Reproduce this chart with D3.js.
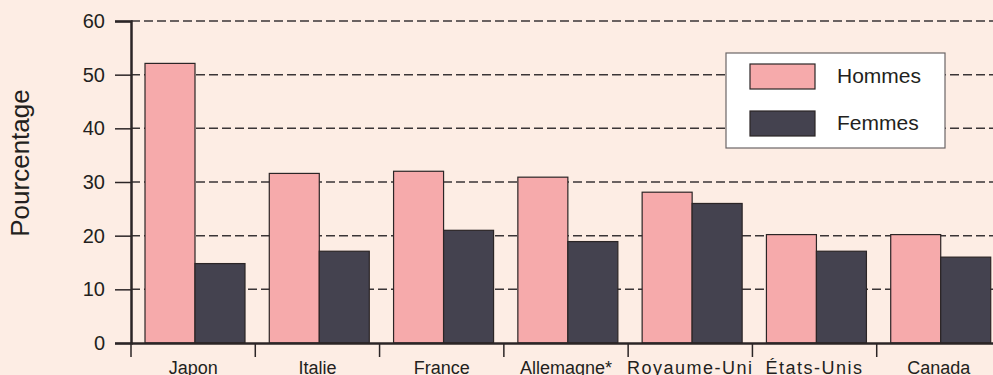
<!DOCTYPE html>
<html>
<head>
<meta charset="utf-8">
<script src="https://cdn.jsdelivr.net/npm/d3@7"></script>
<style>
  body { margin: 0; background: #fdede4; }
  svg { display: block; font-family: "Liberation Sans", Arial, sans-serif; }
</style>
</head>
<body>
<div id="chart"></div>
<script>
const categories = ['Japon', 'Italie', 'France', 'Allemagne*', 'Royaume-Uni', 'États-Unis', 'Canada'];
const hommes = [52.1, 31.6, 32.0, 30.9, 28.1, 20.2, 20.2];
const femmes = [14.8, 17.1, 21.0, 18.9, 26.0, 17.1, 16.0];
const series = ['Hommes', 'Femmes'];
const yTicks = [0, 10, 20, 30, 40, 50, 60];

const width = 993, height = 375;
const margin = { left: 131, top: 21, bottom: 32 };
const plotRight = 1001;

const colors = { Hommes: '#f6aaab', Femmes: '#44424f' };
const fontFam = '"Liberation Sans", Arial, sans-serif';

const svg = d3.select('#chart')
  .append('svg')
  .attr('width', width)
  .attr('height', height);

svg.append('rect')
  .attr('width', width)
  .attr('height', height)
  .attr('fill', '#fdede4');

const x0 = d3.scaleBand()
  .domain(categories)
  .range([margin.left, plotRight]);

const x1 = d3.scaleBand()
  .domain(series)
  .range([14, 114]);

const y = d3.scaleLinear()
  .domain([0, 60])
  .range([height - margin.bottom, margin.top]);

// dashed grid
svg.append('g')
  .selectAll('line')
  .data(yTicks.filter(d => d > 0))
  .enter().append('line')
  .attr('x1', margin.left)
  .attr('x2', width)
  .attr('y1', d => y(d))
  .attr('y2', d => y(d))
  .attr('stroke', '#3a3536')
  .attr('stroke-width', 1.5)
  .attr('stroke-dasharray', '9,4');

// bars
const rows = categories.map((c, i) => ({ cat: c, Hommes: hommes[i], Femmes: femmes[i] }));

const groups = svg.append('g')
  .selectAll('g')
  .data(rows)
  .enter().append('g')
  .attr('transform', d => 'translate(' + x0(d.cat) + ',0)');

groups.selectAll('rect')
  .data(d => series.map(s => ({ key: s, value: d[s] })))
  .enter().append('rect')
  .attr('x', d => x1(d.key))
  .attr('width', x1.bandwidth())
  .attr('y', d => y(d.value))
  .attr('height', d => y(0) - y(d.value))
  .attr('fill', d => colors[d.key])
  .attr('stroke', '#2b2526')
  .attr('stroke-width', 1.2);

// y axis
const yAxis = svg.append('g')
  .attr('transform', 'translate(' + margin.left + ',0)')
  .call(d3.axisLeft(y).tickValues(yTicks).tickSize(16).tickPadding(10));
yAxis.select('.domain').attr('stroke', '#2b2526').attr('stroke-width', 2.5);
yAxis.selectAll('.tick line').attr('stroke', '#2b2526').attr('stroke-width', 1.5);
yAxis.selectAll('.tick text')
  .attr('fill', '#231f20')
  .style('font-size', '20px')
  .style('font-family', fontFam);

// x axis
const xAxis = svg.append('g')
  .attr('transform', 'translate(0,' + y(0) + ')')
  .call(d3.axisBottom(x0).tickSize(0).tickPadding(0));
xAxis.select('.domain').attr('stroke', '#2b2526').attr('stroke-width', 2.5);
xAxis.selectAll('.tick text')
  .attr('dy', null)
  .attr('y', 31)
  .attr('fill', '#231f20')
  .style('font-size', '18px')
  .style('font-family', fontFam)
  .style('letter-spacing', d => (d === 'Royaume-Uni' || d === 'États-Unis') ? '1.5px' : '0px');

// category separators
svg.append('g')
  .selectAll('line')
  .data(categories)
  .enter().append('line')
  .attr('x1', d => x0(d))
  .attr('x2', d => x0(d))
  .attr('y1', y(0))
  .attr('y2', y(0) + 14)
  .attr('stroke', '#2b2526')
  .attr('stroke-width', 1.5);

// y label
svg.append('text')
  .attr('transform', 'translate(29,163) rotate(-90)')
  .attr('text-anchor', 'middle')
  .attr('fill', '#231f20')
  .style('font-size', '26px')
  .text('Pourcentage');

// legend
const legend = svg.append('g').attr('transform', 'translate(726,53)');
legend.append('rect')
  .attr('width', 219)
  .attr('height', 95)
  .attr('fill', '#ffffff')
  .attr('stroke', '#6b6566')
  .attr('stroke-width', 1.2);

const items = legend.selectAll('g')
  .data(series)
  .enter().append('g')
  .attr('transform', (d, i) => 'translate(24,' + (11 + i * 47) + ')');

items.append('rect')
  .attr('width', 65)
  .attr('height', 25)
  .attr('fill', d => colors[d])
  .attr('stroke', '#2b2526')
  .attr('stroke-width', 1.2);

items.append('text')
  .attr('x', 87)
  .attr('y', 12)
  .attr('dy', '0.35em')
  .attr('fill', '#231f20')
  .style('font-size', '21px')
  .text(d => d);
</script>
</body>
</html>
